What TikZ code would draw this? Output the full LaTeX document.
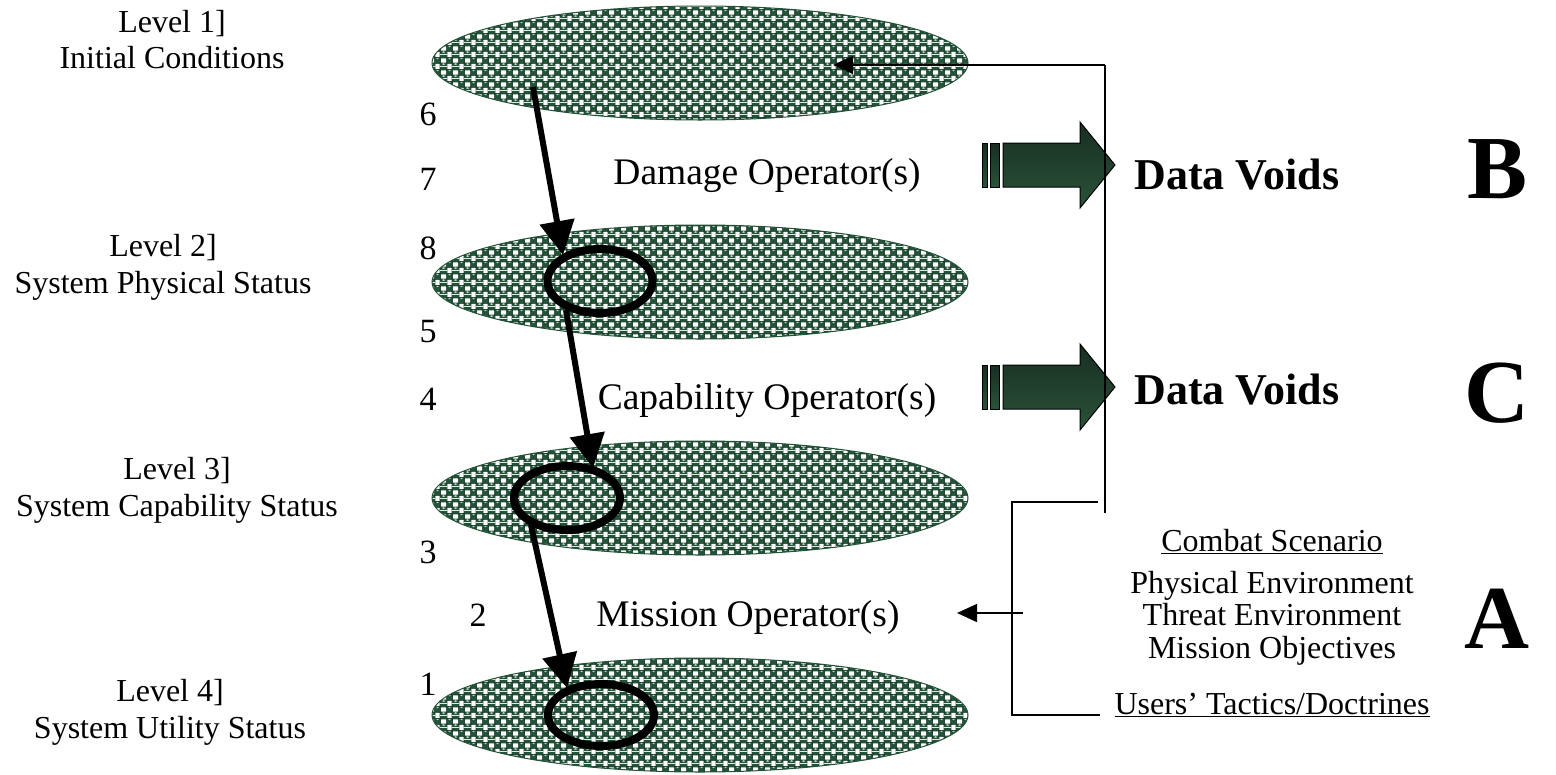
\documentclass[tikz,border=0pt]{standalone}
\usepackage{fontspec}
\setmainfont{Liberation Serif}
\usetikzlibrary{shapes.geometric,arrows.meta,patterns}

\definecolor{ballgreen}{RGB}{36,82,57}
\definecolor{balldark}{RGB}{26,62,42}
\definecolor{ballhi}{RGB}{190,210,198}
\definecolor{arrowdark}{RGB}{24,46,33}
\definecolor{arrowlight}{RGB}{42,82,58}

% checkerboard of green balls and white squares, used to fill the level ellipses
\pgfdeclarepatterninherentlycolored{balls}{\pgfpointorigin}{\pgfpoint{12pt}{12pt}}{\pgfpoint{12pt}{12pt}}{%
  \pgfsetfillcolor{ballgreen}%
  \pgfpathrectangle{\pgfpointorigin}{\pgfpoint{12pt}{12pt}}\pgfusepath{fill}%
  \pgfsetstrokecolor{balldark}\pgfsetlinewidth{0.8pt}%
  \pgfpathcircle{\pgfpoint{6pt}{6pt}}{4.2pt}%
  \pgfpathcircle{\pgfpoint{0pt}{0pt}}{4.2pt}%
  \pgfpathcircle{\pgfpoint{12pt}{0pt}}{4.2pt}%
  \pgfpathcircle{\pgfpoint{0pt}{12pt}}{4.2pt}%
  \pgfpathcircle{\pgfpoint{12pt}{12pt}}{4.2pt}%
  \pgfusepath{stroke}%
  \pgfsetfillcolor{white}%
  \pgfpathrectangle{\pgfpoint{3.75pt}{-2.25pt}}{\pgfpoint{4.5pt}{4.5pt}}%
  \pgfpathrectangle{\pgfpoint{3.75pt}{9.75pt}}{\pgfpoint{4.5pt}{4.5pt}}%
  \pgfpathrectangle{\pgfpoint{-2.25pt}{3.75pt}}{\pgfpoint{4.5pt}{4.5pt}}%
  \pgfpathrectangle{\pgfpoint{9.75pt}{3.75pt}}{\pgfpoint{4.5pt}{4.5pt}}%
  \pgfusepath{fill}%
  \pgfsetfillcolor{ballhi}%
  \pgfpathellipse{\pgfpoint{6pt}{8pt}}{\pgfpoint{1.4pt}{0pt}}{\pgfpoint{0pt}{0.7pt}}%
  \pgfpathellipse{\pgfpoint{0pt}{2pt}}{\pgfpoint{1.4pt}{0pt}}{\pgfpoint{0pt}{0.7pt}}%
  \pgfpathellipse{\pgfpoint{12pt}{2pt}}{\pgfpoint{1.4pt}{0pt}}{\pgfpoint{0pt}{0.7pt}}%
  \pgfusepath{fill}%
}

\tikzset{
  level/.style={ellipse, draw=ballgreen, line width=1pt, pattern=balls,
                minimum width=536pt, minimum height=114pt, inner sep=0pt},
  ring/.style={ellipse, draw=black, line width=8pt, inner sep=0pt},
  flow/.style={line width=6pt, -{Triangle[length=34pt,width=34pt]}},
  conn/.style={line width=1.5pt},
  connarrow/.style={line width=1.5pt, -{Triangle[length=20pt,width=18pt]}},
  lbl/.style={anchor=base, font=\fontsize{32}{37}\selectfont, inner sep=0pt},
  num/.style={anchor=base, font=\fontsize{34}{40}\selectfont, inner sep=0pt},
  op/.style={anchor=base, font=\fontsize{37.5}{44}\selectfont, inner sep=0pt},
  void/.style={anchor=base, font=\fontsize{44}{52}\selectfont\bfseries, inner sep=0pt},
  big/.style={anchor=base, font=\fontsize{90}{100}\selectfont\bfseries, inner sep=0pt},
  scen/.style={anchor=base, font=\fontsize{32}{38}\selectfont, inner sep=0pt},
  blockarrow/.style={top color=arrowdark, bottom color=arrowlight, draw=black, line width=1pt},
}

\begin{document}
\begin{tikzpicture}[x=1pt, y=-1pt]
\useasboundingbox (0,0) rectangle (1556,774);

% level ellipses
\node[level] (e1) at (700,63) {};
\node[level] (e2) at (700,282) {};
\node[level] (e3) at (700,498) {};
\node[level] (e4) at (700,715) {};

% rings marking the affected part of each level
\node[ring, minimum width=105pt, minimum height=64pt] (c2) at (600,281) {};
\node[ring, minimum width=106pt, minimum height=64pt] (c3) at (567,498) {};
\node[ring, minimum width=106pt, minimum height=62pt] (c4) at (601,715) {};

% propagation arrows
\coordinate (s1) at (533,87);
\coordinate (t1) at (563,255);
\coordinate (s2) at (566,310);
\coordinate (t2) at (593,468);
\coordinate (s3) at (531,525);
\coordinate (t3) at (567,688);
\draw[flow] (s1) -- (t1);
\draw[flow] (s2) -- (t2);
\draw[flow] (s3) -- (t3);

% level labels
\node[lbl] (l1a) at (172,32) {Level 1]};
\node[lbl] (l1b) at (172,68) {Initial Conditions};
\node[lbl] (l2a) at (163,256) {Level 2]};
\node[lbl] (l2b) at (163,293) {System Physical Status};
\node[lbl] (l3a) at (177,479) {Level 3]};
\node[lbl] (l3b) at (177,516) {System Capability Status};
\node[lbl] (l4a) at (170,701) {Level 4]};
\node[lbl] (l4b) at (170,738) {System Utility Status};

% step numbers
\node[num] (n6) at (428,125) {6};
\node[num] (n7) at (428,190) {7};
\node[num] (n8) at (428,259) {8};
\node[num] (n5) at (428,342) {5};
\node[num] (n4) at (428,410) {4};
\node[num] (n3) at (428,563) {3};
\node[num] (n2) at (478,626) {2};
\node[num] (n1) at (428,695) {1};

% operators
\node[op] (o1) at (767,184) {Damage Operator(s)};
\node[op] (o2) at (767,409) {Capability Operator(s)};
\node[op] (o3) at (748,626) {Mission Operator(s)};

% block arrows towards the data voids
\foreach \dy/\nm in {0/ba1, 222/ba2}{
  \begin{scope}[yshift=-\dy pt]
    \shade[blockarrow] (982,143) rectangle (987,187);
    \shade[blockarrow] (990,143) rectangle (999,187);
    \shade[blockarrow] (1003,143) -- (1080,143) -- (1080,122) -- (1115,165)
       -- (1080,208) -- (1080,187) -- (1003,187) -- cycle;
    \coordinate (\nm) at (1115,165);
  \end{scope}
}

\node[void] (v1) at (1237,189) {Data Voids};
\node[void] (v2) at (1237,404) {Data Voids};

\node[big] (bB) at (1497,198) {B};
\node[big] (bC) at (1497,422) {C};
\node[big] (bA) at (1497,648) {A};

% feedback line to the initial conditions
\coordinate (fb0) at (1105,513);
\coordinate (fb1) at (1105,65);
\coordinate (fb2) at (833,65);
\draw[conn] (fb0) -- (fb1);
\draw[connarrow] (fb1) -- (fb2);

% scenario bracket feeding the mission operators
\coordinate (sb0) at (1098,502);
\coordinate (sb1) at (1012,502);
\coordinate (sb2) at (1012,715);
\coordinate (sb3) at (1100,715);
\coordinate (sa0) at (1023,613);
\coordinate (sa1) at (957,613);
\draw[conn] (sb0) -- (sb1) -- (sb2) -- (sb3);
\draw[connarrow] (sa0) -- (sa1);

% combat scenario
\node[scen] (cs0) at (1272,551) {\underline{Combat Scenario}};
\node[scen] (cs1) at (1272,593) {Physical Environment};
\node[scen] (cs2) at (1272,625) {Threat Environment};
\node[scen] (cs3) at (1272,658) {Mission Objectives};
\node[scen] (cs4) at (1272,714) {\underline{Users’ Tactics/Doctrines}};
\end{tikzpicture}
\end{document}
